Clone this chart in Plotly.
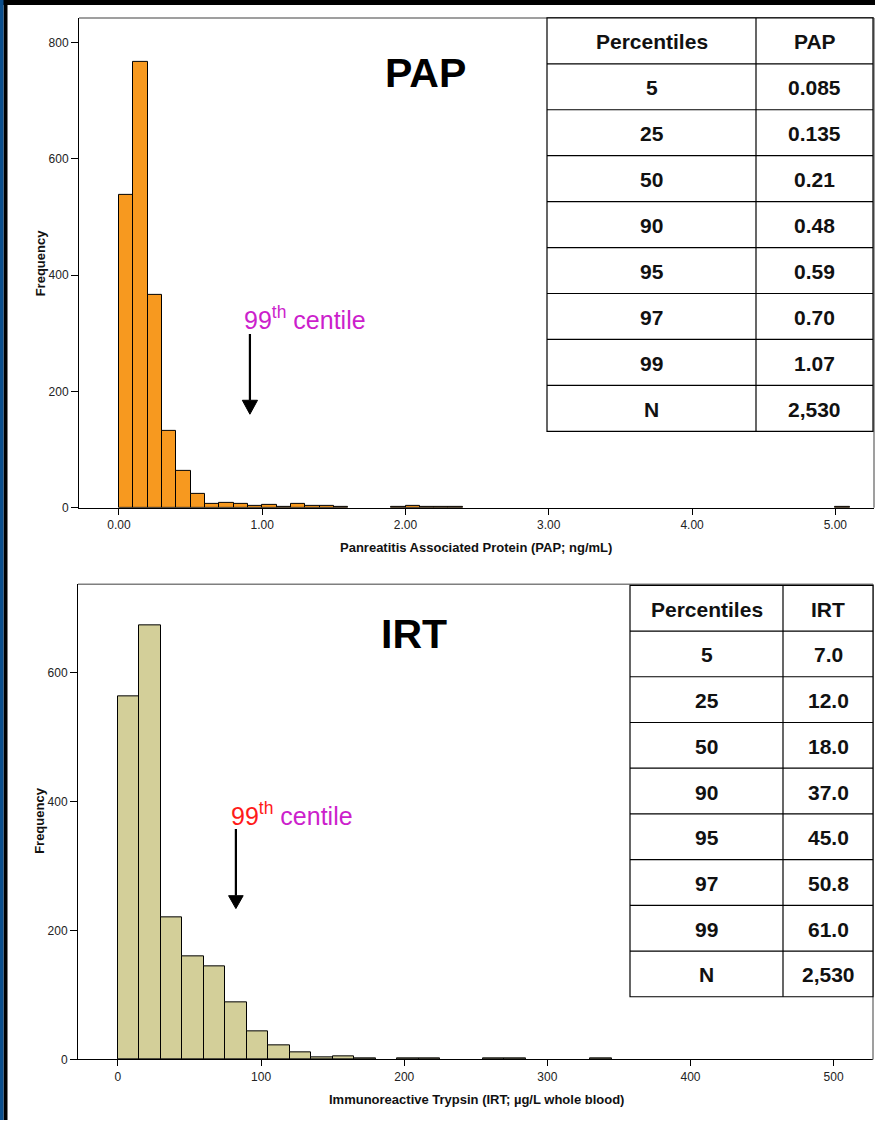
import plotly.graph_objects as go

W, H = 875, 1127

# ---- histogram data -------------------------------------------------------
pap_bin_width = 0.1
pap_bin_left = [0.0, 0.1, 0.2, 0.3, 0.4, 0.5, 0.6, 0.7, 0.8, 0.9, 1.0, 1.1,
                1.2, 1.3, 1.4, 1.5, 1.9, 2.0, 2.1, 2.2, 2.3, 5.0]
pap_counts = [538, 767, 366, 133, 64, 24, 6, 8, 7, 3, 5, 1,
              6, 3, 3, 2, 2, 3, 1, 1, 2, 1]

irt_bin_width = 15
irt_bin_left = [0, 15, 30, 45, 60, 75, 90, 105, 120, 135, 150, 165,
                195, 210, 255, 270, 330]
irt_counts = [564, 673, 220, 160, 145, 88, 44, 22, 11, 3, 4, 2,
              2, 1, 1, 2, 1]

# ---- percentile tables ----------------------------------------------------
percentile_labels = ["5", "25", "50", "90", "95", "97", "99", "N"]
pap_values = ["0.085", "0.135", "0.21", "0.48", "0.59", "0.70", "1.07", "2,530"]
irt_values = ["7.0", "12.0", "18.0", "37.0", "45.0", "50.8", "61.0", "2,530"]

# ---- axis ticks -----------------------------------------------------------
pap_xticks = [0, 1, 2, 3, 4, 5]
pap_yticks = [0, 200, 400, 600, 800]
irt_xticks = [0, 100, 200, 300, 400, 500]
irt_yticks = [0, 200, 400, 600]

FONT = "Liberation Sans, Arial, sans-serif"
ORANGE = "#F7991F"
KHAKI = "#D3CF99"
MAGENTA = "#CC1FCC"


def px(x):
    return x / W


def py(y):
    return 1 - y / H


fig = go.Figure()

fig.add_trace(go.Bar(
    x=[b + pap_bin_width / 2 for b in pap_bin_left], y=pap_counts,
    width=pap_bin_width, marker=dict(color=ORANGE, line=dict(color="black", width=1)),
    xaxis="x", yaxis="y", showlegend=False, hoverinfo="x+y"))

fig.add_trace(go.Bar(
    x=[b + irt_bin_width / 2 for b in irt_bin_left], y=irt_counts,
    width=irt_bin_width, marker=dict(color=KHAKI, line=dict(color="black", width=1)),
    xaxis="x2", yaxis="y2", showlegend=False, hoverinfo="x+y"))

axis_common = dict(showline=True, linecolor="black", linewidth=1, ticks="outside",
                   tickcolor="black", tickwidth=1, showgrid=False, zeroline=False,
                   tickfont=dict(family=FONT, size=12, color="#222"))

# Plot frames (pixel positions of the two panels)
pap_frame = dict(l=79, r=874, t=18, b=511)
irt_frame = dict(l=78, r=873, t=588, b=1066)

fig.update_layout(
    width=W, height=H, margin=dict(l=0, r=0, t=0, b=0),
    paper_bgcolor="white", plot_bgcolor="white", bargap=0,
    xaxis=dict(domain=[px(pap_frame["l"]), px(pap_frame["r"])], range=[-0.279, 5.27],
               tickvals=pap_xticks, ticktext=[f"{v:.2f}" for v in pap_xticks],
               ticklen=6, anchor="y", **axis_common),
    yaxis=dict(domain=[py(pap_frame["b"]), py(pap_frame["t"])], range=[0, 842.7],
               tickvals=pap_yticks, ticklen=7, anchor="x", **axis_common),
    xaxis2=dict(domain=[px(irt_frame["l"]), px(irt_frame["r"])], range=[-27.9, 527.5],
                tickvals=irt_xticks, ticklen=6, anchor="y2", **axis_common),
    yaxis2=dict(domain=[py(irt_frame["b"]), py(irt_frame["t"])], range=[0, 737.1],
                tickvals=irt_yticks, ticklen=7, anchor="x2", **axis_common),
)

shapes = []
annotations = []

# Slide border: dark band at top, blue/black stripe on the left
shapes.append(dict(type="rect", xref="paper", yref="paper", x0=0, x1=1,
                   y0=py(5), y1=1, fillcolor="black", line_width=0, layer="above"))
shapes.append(dict(type="rect", xref="paper", yref="paper", x0=px(3.5), x1=px(7.5),
                   y0=0, y1=1, fillcolor="black", line_width=0, layer="above"))
shapes.append(dict(type="rect", xref="paper", yref="paper", x0=0, x1=px(3.5),
                   y0=0, y1=1, fillcolor="#0B4E8C", line_width=0, layer="above"))

# Grey top and right edges of each panel frame
for fr in (pap_frame, irt_frame):
    shapes.append(dict(type="line", xref="paper", yref="paper",
                       x0=px(fr["l"]), x1=px(fr["r"]), y0=py(fr["t"]), y1=py(fr["t"]),
                       line=dict(color="#7f7f7f", width=1.5)))
    shapes.append(dict(type="line", xref="paper", yref="paper",
                       x0=px(fr["r"]), x1=px(fr["r"]), y0=py(fr["t"]), y1=py(fr["b"]),
                       line=dict(color="#7f7f7f", width=1.5)))


def add_table(x0, xm, x1, y0, y1, header, values):
    rows = len(percentile_labels) + 1
    rh = (y1 - y0) / rows
    shapes.append(dict(type="rect", xref="paper", yref="paper",
                       x0=px(x0), x1=px(x1), y0=py(y1), y1=py(y0),
                       fillcolor="white", line=dict(color="black", width=1.2),
                       layer="above"))
    for i in range(1, rows):
        yy = y0 + i * rh
        shapes.append(dict(type="line", xref="paper", yref="paper",
                           x0=px(x0), x1=px(x1), y0=py(yy), y1=py(yy),
                           line=dict(color="black", width=1.2), layer="above"))
    shapes.append(dict(type="line", xref="paper", yref="paper",
                       x0=px(xm), x1=px(xm), y0=py(y0), y1=py(y1),
                       line=dict(color="black", width=1.2), layer="above"))
    col1 = ["Percentiles"] + percentile_labels
    col2 = [header] + values
    for i in range(rows):
        yc = y0 + (i + 0.5) * rh + 1
        for text, xc in ((col1[i], (x0 + xm) / 2), (col2[i], (xm + x1) / 2)):
            annotations.append(dict(xref="paper", yref="paper", x=px(xc), y=py(yc),
                                    text=f"<b>{text}</b>", showarrow=False,
                                    xanchor="center", yanchor="middle",
                                    font=dict(family=FONT, size=21, color="#111")))


add_table(547, 756, 873, 18, 434, "PAP", pap_values)
add_table(630, 783, 873, 589, 1003, "IRT", irt_values)

# Panel titles
annotations.append(dict(xref="paper", yref="paper", x=px(425), y=py(73), text="<b>PAP</b>",
                        showarrow=False, xanchor="center", yanchor="middle",
                        font=dict(family=FONT, size=41, color="black")))
annotations.append(dict(xref="paper", yref="paper", x=px(414), y=py(638), text="<b>IRT</b>",
                        showarrow=False, xanchor="center", yanchor="middle",
                        font=dict(family=FONT, size=41, color="black")))

# 99th centile labels
annotations.append(dict(xref="paper", yref="paper", x=px(242), y=py(320),
                        text="99<sup>th</sup> centile", showarrow=False,
                        xanchor="left", yanchor="middle",
                        font=dict(family=FONT, size=25, color=MAGENTA)))
annotations.append(dict(xref="paper", yref="paper", x=px(229), y=py(819),
                        text="<span style='color:#FF1A1A'>99<sup>th</sup></span> centile",
                        showarrow=False, xanchor="left", yanchor="middle",
                        font=dict(family=FONT, size=25, color=MAGENTA)))

# Downward arrows (data coordinates of each panel)
def add_arrow(xr, yr, x, y_top, y_base, y_tip, half_w):
    shapes.append(dict(type="line", xref=xr, yref=yr, x0=x, x1=x, y0=y_top, y1=y_base,
                       line=dict(color="black", width=2.2)))
    shapes.append(dict(type="path", xref=xr, yref=yr,
                       path=f"M {x - half_w},{y_base} L {x + half_w},{y_base} L {x},{y_tip} Z",
                       fillcolor="black", line=dict(color="black", width=1)))


add_arrow("x", "y", 0.914, 299, 185, 161, 0.053)
add_arrow("x2", "y2", 82.4, 357.5, 254, 234, 5.1)

# Axis titles
for x, y, text, angle in ((476, 551, "Panreatitis Associated Protein (PAP; ng/mL)", 0),
                          (476, 1106, "Immunoreactive Trypsin (IRT; µg/L whole blood)", 0),
                          (40, 265, "Frequency", -90),
                          (40, 826, "Frequency", -90)):
    annotations.append(dict(xref="paper", yref="paper", x=px(x), y=py(y),
                            text=f"<b>{text}</b>", showarrow=False, textangle=angle,
                            xanchor="center", yanchor="middle",
                            font=dict(family=FONT, size=13, color="#111")))

fig.update_layout(shapes=shapes, annotations=annotations)

fig.write_html("out.html")
